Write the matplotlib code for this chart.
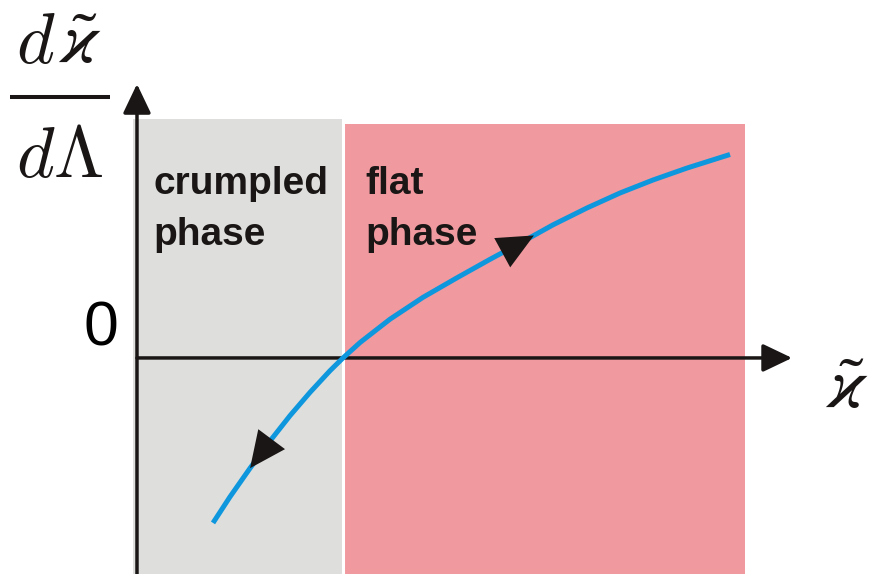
import numpy as np
import matplotlib
matplotlib.use("Agg")
import matplotlib.pyplot as plt

# Flow curve d(kappa)/d(Lambda) versus kappa (critical coupling kappa_c = 1)
kappa = [0.369, 0.451, 0.549, 0.646, 0.743, 0.840, 0.937, 1.000, 1.083,
         1.228, 1.388, 1.553, 1.714, 1.859, 2.019, 2.184, 2.345, 2.505,
         2.670, 2.879]
beta = [-0.801, -0.675, -0.535, -0.403, -0.280, -0.167, -0.062, 0.000, 0.075,
        0.188, 0.294, 0.389, 0.479, 0.557, 0.646, 0.728, 0.801, 0.864,
        0.922, 0.988]

kappa_c = 1.0
phase_labels = [("crumpled", "phase"), ("flat", "phase")]

# Flow-direction arrows: (tip kappa, tail kappa) on the curve
flow_arrows = [(1.927, 1.748), (0.549, 0.670)]

GRAY = "#dededd"
PINK = "#f09a9f"
BLUE = "#0e97dd"
INK = "#1a1616"

plt.rcParams["mathtext.fontset"] = "cm"

fig = plt.figure(figsize=(8.73, 5.74), dpi=100)
ax = fig.add_axes([0, 0, 1, 1])
ax.set_xlim(-0.665, 3.573)
ax.set_ylim(-1.049, 1.738)
ax.axis("off")

# Phase regions
ybot = -1.2
ax.fill_between([-0.02, kappa_c], ybot, 1.160, color=GRAY, lw=0, zorder=1)
ax.fill_between([kappa_c, 2.951], ybot, 1.136, color=PINK, lw=0, zorder=1)
ax.plot([kappa_c, kappa_c], [ybot, 1.17], color="white", lw=2.2, zorder=2)

# Axes with arrowheads
axis_kw = dict(arrowstyle="-|>,head_length=0.9,head_width=0.43",
               mutation_scale=20, lw=2.5, color=INK, shrinkA=0, shrinkB=0)
ax.annotate("", xy=(0, 1.330), xytext=(0, ybot), arrowprops=axis_kw,
            zorder=4, annotation_clip=False)
ax.annotate("", xy=(3.180, 0), xytext=(0, 0), arrowprops=axis_kw,
            zorder=4, annotation_clip=False)

# Flow curve
ax.plot(kappa, beta, color=BLUE, lw=3.6, solid_capstyle="butt",
        solid_joinstyle="round", zorder=5)

for tip, tail in flow_arrows:
    ax.annotate("", xy=(tip, np.interp(tip, kappa, beta)),
                xytext=(tail, np.interp(tail, kappa, beta)),
                arrowprops=dict(arrowstyle="-|>,head_length=1.3,head_width=0.6",
                                mutation_scale=20, lw=0, color=INK,
                                shrinkA=0, shrinkB=0),
                zorder=6)

# Phase labels
label_kw = dict(fontsize=28, fontweight="bold", color=INK,
                family="Liberation Sans", va="baseline", ha="left", zorder=7)
for x0, (l1, l2) in zip([0.078, 1.107], phase_labels):
    ax.text(x0, 0.796, l1, **label_kw)
    ax.text(x0, 0.549, l2, **label_kw)

# Zero tick label
ax.text(-0.175, 0.140, "0", fontsize=45, family="Liberation Sans",
        color="black", ha="center", va="center")

# Axis labels: d(kappa~)/d(Lambda) on the left, kappa~ at the right end
kap_kw = dict(fontsize=52, va="baseline", color=INK, math_fontfamily="stix")
ax.text(-0.395, 1.432, r"$d$", fontsize=52, ha="right", va="baseline",
        color=INK)
ax.text(-0.385, 1.432, r"$\tilde{\varkappa}$", ha="left", **kap_kw)
ax.plot([-0.617, -0.131], [1.267, 1.267], color=INK, lw=2.9,
        solid_capstyle="butt", clip_on=False)
ax.text(-0.374, 0.879, r"$d\Lambda$", fontsize=52, ha="center",
        va="baseline", color=INK)
ax.text(3.445, -0.243, r"$\tilde{\varkappa}$", ha="center", **kap_kw)

fig.savefig("out.png", dpi=100)
